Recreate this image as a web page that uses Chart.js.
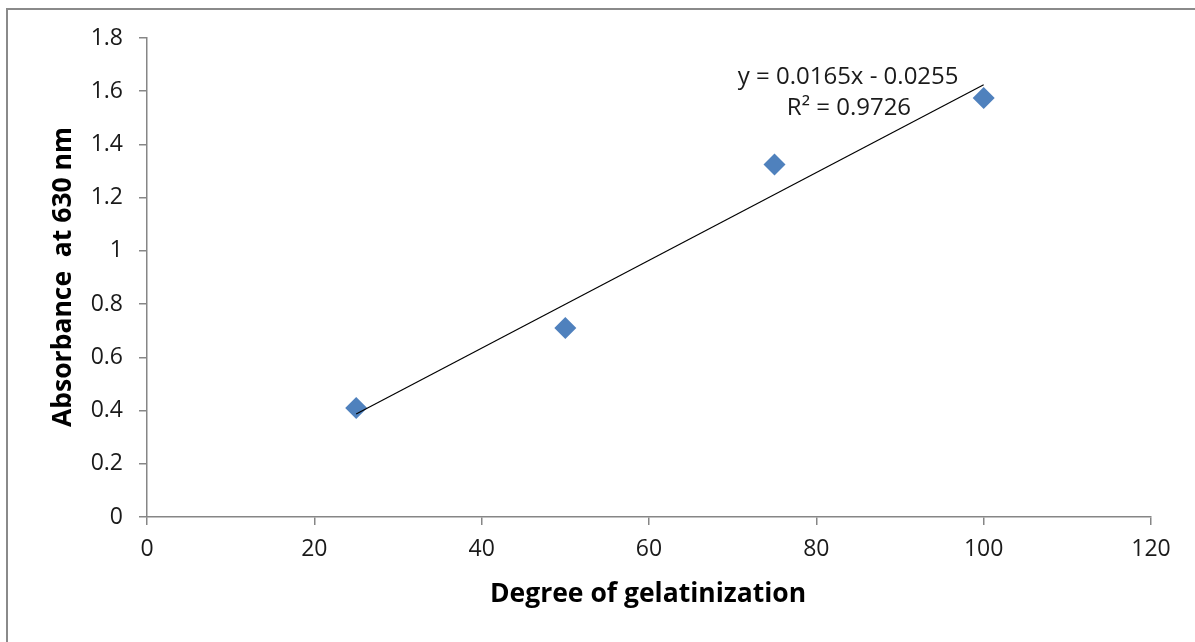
<!DOCTYPE html>
<html>
<head>
<meta charset="utf-8">
<script src="https://cdn.jsdelivr.net/npm/chart.js@4.4.1/dist/chart.umd.min.js"></script>
<style>
  html, body { margin: 0; padding: 0; background: #fff; }
  #wrap { position: relative; width: 1195px; height: 642px; overflow: hidden; }
  #frame { position: absolute; left: 6px; top: 8px; right: 0; bottom: -10px;
           border-top: 2px solid #8a8a8a; border-left: 2px solid #8a8a8a; }
  canvas { position: absolute; left: 0; top: 0; }
</style>
</head>
<body>
<div id="wrap">
  <div id="frame"></div>
  <canvas id="chart" width="1195" height="642"></canvas>
</div>
<script>
// data
var degree = [25, 50, 75, 100];
var absorbance = [0.41, 0.71, 1.325, 1.575];

// linear trendline as printed on the chart
var trendSlope = 0.0165;
var trendIntercept = -0.0255;
var trendX = [25, 100];
var eqText = "y = 0.0165x - 0.0255";
var r2Text = "R\u00b2 = 0.9726";

var xTitle = "Degree of gelatinization";
var yTitle = "Absorbance  at 630 nm";

var axisGray = "#868686";
var tickFont = { family: "'Open Sans', sans-serif", size: 23 };

var points = degree.map(function (d, i) { return { x: d, y: absorbance[i] }; });
var trendPts = trendX.map(function (x) { return { x: x, y: trendSlope * x + trendIntercept }; });

// axis titles + equation drawn by hand
var textPlugin = {
   id: "texts",
   afterDraw: function (chart) {
      var ctx = chart.ctx;
      var area = chart.chartArea;
      var xs = chart.scales.x, ys = chart.scales.y;
      ctx.save();
      ctx.fillStyle = "#000";
      ctx.textAlign = "center";
      ctx.textBaseline = "middle";
      ctx.font = "bold 26.5px 'Open Sans', sans-serif";
      ctx.fillText(xTitle, 648, 594);

      ctx.save();
      ctx.translate(63, 277);
      ctx.rotate(-Math.PI / 2);
      ctx.fillText(yTitle, 0, 0);
      ctx.restore();

      ctx.fillStyle = "#1a1a1a";
      ctx.font = "24px 'Open Sans', sans-serif";
      ctx.fillText(eqText, xs.getPixelForValue(83.8), ys.getPixelForValue(1.652));
      ctx.fillText(r2Text, xs.getPixelForValue(83.9), ys.getPixelForValue(1.538));
      ctx.restore();
   }
};

var ctx = document.getElementById("chart");
new Chart(ctx, {
   type: "scatter",
   data: {
      datasets: [
         {
            type: "line",
            data: trendPts,
            borderColor: "#000",
            borderWidth: 1.2,
            pointRadius: 0,
            fill: false,
            order: 0
         },
         {
            data: points,
            pointStyle: "rectRot",
            pointRadius: 11,
            pointHoverRadius: 11,
            backgroundColor: "#4F81BD",
            borderColor: "#4F81BD",
            borderWidth: 0,
            order: 1
         }
      ]
   },
   options: {
      responsive: false,
      animation: false,
      layout: { padding: { top: 38, right: 44, left: 0, bottom: 0 } },
      plugins: {
         legend: { display: false },
         tooltip: { enabled: false }
      },
      scales: {
         x: {
            type: "linear",
            min: 0, max: 120,
            ticks: { stepSize: 20, color: "#1a1a1a", font: tickFont, padding: 11 },
            grid: { drawOnChartArea: false, color: axisGray, tickLength: 8, lineWidth: 1.5 },
            border: { color: axisGray, width: 1.5 },
            afterFit: function (s) { s.height = 125; }
         },
         y: {
            type: "linear",
            min: 0, max: 1.8,
            ticks: { stepSize: 0.2, color: "#1a1a1a", font: tickFont, padding: 16,
                     callback: function (v) { return Math.round(v * 10) / 10; } },
            grid: { drawOnChartArea: false, color: axisGray, tickLength: 8, lineWidth: 1.5 },
            border: { color: axisGray, width: 1.5 },
            afterFit: function (s) { s.width = 147; }
         }
      }
   },
   plugins: [textPlugin]
});
</script>
</body>
</html>
